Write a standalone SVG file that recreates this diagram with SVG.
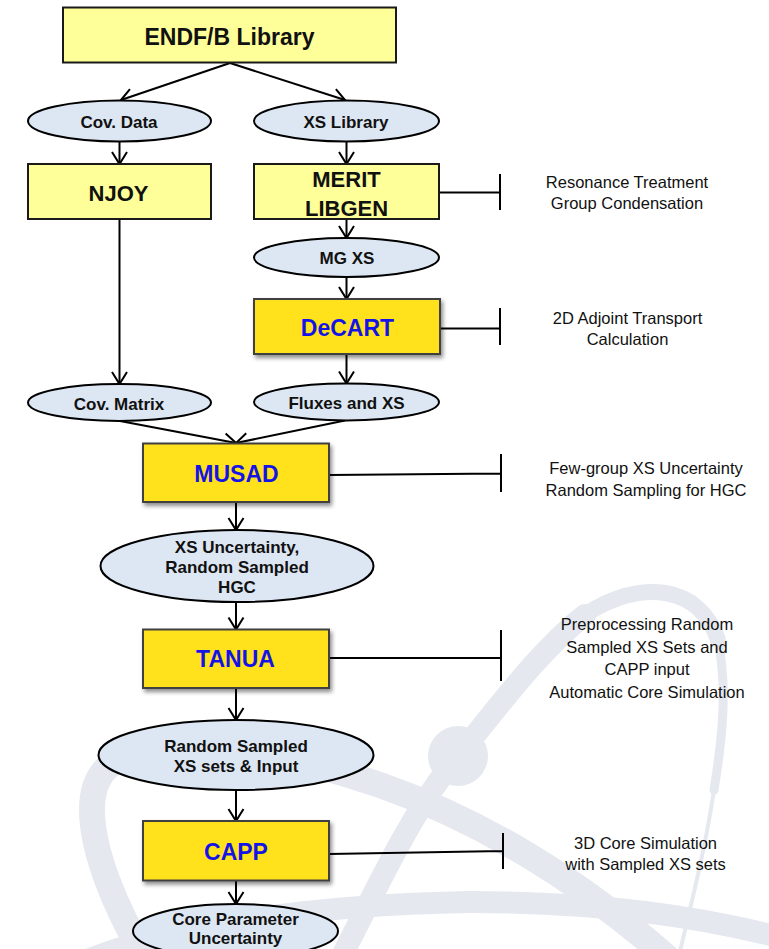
<svg xmlns="http://www.w3.org/2000/svg" width="769" height="949" viewBox="0 0 769 949">
  <defs>
    <style>
      .bg { fill: none; stroke: #e5e8ef; stroke-linecap: round; }
      .box-light { fill: #ffff99; stroke: #1a1a1a; stroke-width: 2; }
      .box-gold { fill: #ffe21c; stroke: #404040; stroke-width: 2; filter: url(#shadow); }
      .oval { fill: #dde7f3; stroke: #000; stroke-width: 2; }
      .lbl { font-family: "Liberation Sans", Arial, sans-serif; font-weight: bold; fill: #111; text-anchor: middle; }
      .big { font-size: 22px; }
      .tool { font-size: 23px; fill: #1414e6; }
      .small { font-size: 17px; }
      .note { font-family: "Liberation Sans", Arial, sans-serif; font-size: 16.5px; fill: #111; text-anchor: middle; }
      .edge { fill: none; stroke: #000; stroke-width: 2; }
      .flow { marker-end: url(#arrow); }
    </style>
    <marker id="arrow" viewBox="-14 -9 16 18" refX="0" refY="0" markerWidth="16" markerHeight="18" markerUnits="userSpaceOnUse" orient="auto">
      <path d="M-12,-7.5 L0,0 L-12,7.5" fill="none" stroke="#000" stroke-width="2"/>
    </marker>
    <filter id="shadow" x="-10%" y="-10%" width="125%" height="135%">
      <feDropShadow dx="2" dy="3" stdDeviation="2" flood-color="#000" flood-opacity="0.45"/>
    </filter>
  </defs>

  <rect width="769" height="949" fill="#fff"/>

  <!-- faint atom emblem in the background -->
  <g id="emblem">
    <path class="bg" stroke-width="22" d="M340,960 C 390,860 420,800 458,756 C 500,705 540,650 585,615"/>
    <path class="bg" stroke-width="16" d="M585,615 C 640,578 700,585 718,640"/>
    <path class="bg" stroke-width="9" d="M718,640 C 728,690 722,740 714,790"/>
    <path class="bg" stroke-width="4" d="M714,790 C 705,850 692,900 678,960"/>
    <circle cx="458" cy="756" r="30" fill="#e5e8ef"/>
    <path class="bg" stroke-width="26" d="M150,965 C 115,910 92,850 92,810 C 92,775 108,757 150,750 C 230,740 300,758 380,785 C 480,820 580,880 670,960"/>
    <path class="bg" stroke-width="22" d="M60,972 C 150,928 300,905 470,902 C 600,902 700,916 790,940"/>
  </g>

  <!-- connectors -->
  <g id="connectors">
    <path class="edge flow" d="M230,63 L121,100"/>
    <path class="edge flow" d="M230,63 L345,100"/>
    <path class="edge flow" d="M119.5,141.5 V164"/>
    <path class="edge flow" d="M346.5,141.5 V164"/>
    <path class="edge flow" d="M346.5,219 V238"/>
    <path class="edge flow" d="M346.5,277 V299"/>
    <path class="edge flow" d="M119.5,219 V384"/>
    <path class="edge flow" d="M346.5,354 V383.5"/>
    <path class="edge flow" d="M120,421 L236,443"/>
    <path class="edge flow" d="M345,420.5 L236,443"/>
    <path class="edge flow" d="M236,502 V530"/>
    <path class="edge flow" d="M236,602 V629.5"/>
    <path class="edge flow" d="M236,688 V720"/>
    <path class="edge flow" d="M236,790 V821"/>
    <path class="edge flow" d="M236,880.5 V904"/>
    <!-- side notes with bar ends -->
    <path class="edge" d="M439,192.5 H500 M500,174 V210"/>
    <path class="edge" d="M440,328.5 H500 M500,308 V345"/>
    <path class="edge" d="M329,475 L501,473.5 M501,454 V492"/>
    <path class="edge" d="M329,658 H501 M501,630 V681"/>
    <path class="edge" d="M329,854 L503,851 M503,833 V869"/>
  </g>

  <g id="endf">
    <rect class="box-light" x="63" y="7.5" width="333" height="55"/>
    <text class="lbl" x="229.5" y="44.5" font-size="23">ENDF/B Library</text>
  </g>

  <g id="cov-data">
    <ellipse class="oval" cx="119.5" cy="121" rx="91.5" ry="20.5"/>
    <text class="lbl small" x="119" y="128">Cov. Data</text>
  </g>

  <g id="xs-library">
    <ellipse class="oval" cx="346.5" cy="121" rx="92.5" ry="20.5"/>
    <text class="lbl small" x="346" y="128">XS Library</text>
  </g>

  <g id="njoy">
    <rect class="box-light" x="28" y="164" width="183" height="55"/>
    <text class="lbl big" x="118.5" y="201">NJOY</text>
  </g>

  <g id="merit-libgen">
    <rect class="box-light" x="254" y="164" width="185" height="55"/>
    <text class="lbl big" x="346.5" y="186.5">MERIT</text>
    <text class="lbl big" x="346.5" y="215.5">LIBGEN</text>
  </g>

  <g id="mg-xs">
    <ellipse class="oval" cx="346.5" cy="257.5" rx="92.5" ry="19.5"/>
    <text class="lbl small" x="347" y="264">MG XS</text>
  </g>

  <g id="decart">
    <rect class="box-gold" x="254" y="299" width="186" height="55"/>
    <text class="lbl tool" x="347.5" y="336">DeCART</text>
  </g>

  <g id="cov-matrix">
    <ellipse class="oval" cx="119.5" cy="402.5" rx="91.5" ry="18.5"/>
    <text class="lbl small" x="119" y="409.5">Cov. Matrix</text>
  </g>

  <g id="fluxes-xs">
    <ellipse class="oval" cx="346.5" cy="402" rx="92.5" ry="18.5"/>
    <text class="lbl small" x="346.5" y="409">Fluxes and XS</text>
  </g>

  <g id="musad">
    <rect class="box-gold" x="143" y="443.5" width="186" height="58.5"/>
    <text class="lbl tool" x="236.5" y="481.5">MUSAD</text>
  </g>

  <g id="xs-uncertainty">
    <ellipse class="oval" cx="237" cy="566" rx="136.5" ry="36"/>
    <text class="lbl small" x="237" y="552.5">XS Uncertainty,</text>
    <text class="lbl small" x="237" y="572.5">Random Sampled</text>
    <text class="lbl small" x="237" y="593">HGC</text>
  </g>

  <g id="tanua">
    <rect class="box-gold" x="143" y="629.5" width="186" height="58.5"/>
    <text class="lbl tool" x="235.5" y="667">TANUA</text>
  </g>

  <g id="random-sampled">
    <ellipse class="oval" cx="236" cy="755" rx="137.5" ry="35"/>
    <text class="lbl small" x="236" y="751.5">Random Sampled</text>
    <text class="lbl small" x="236" y="772">XS sets &amp; Input</text>
  </g>

  <g id="capp">
    <rect class="box-gold" x="143" y="821" width="186" height="59.5"/>
    <text class="lbl tool" x="236" y="860">CAPP</text>
  </g>

  <g id="core-parameter">
    <ellipse class="oval" cx="235.5" cy="931" rx="102.5" ry="27"/>
    <text class="lbl small" x="235.5" y="925">Core Parameter</text>
    <text class="lbl small" x="235.5" y="944">Uncertainty</text>
  </g>

  <!-- notes beside each processing step -->
  <g id="note-merit">
    <text class="note" x="627" y="187.5">Resonance Treatment</text>
    <text class="note" x="627" y="209">Group Condensation</text>
  </g>
  <g id="note-decart">
    <text class="note" x="627.5" y="323.5">2D Adjoint Transport</text>
    <text class="note" x="627.5" y="345">Calculation</text>
  </g>
  <g id="note-musad">
    <text class="note" x="646" y="473.5">Few-group XS Uncertainty</text>
    <text class="note" x="646" y="496">Random Sampling  for HGC</text>
  </g>
  <g id="note-tanua">
    <text class="note" x="647" y="630">Preprocessing Random</text>
    <text class="note" x="647" y="652.5">Sampled XS Sets and</text>
    <text class="note" x="647" y="675">CAPP input</text>
    <text class="note" x="647" y="697.5">Automatic Core Simulation</text>
  </g>
  <g id="note-capp">
    <text class="note" x="645.5" y="848.5">3D Core Simulation</text>
    <text class="note" x="645.5" y="870">with Sampled XS sets</text>
  </g>
</svg>
